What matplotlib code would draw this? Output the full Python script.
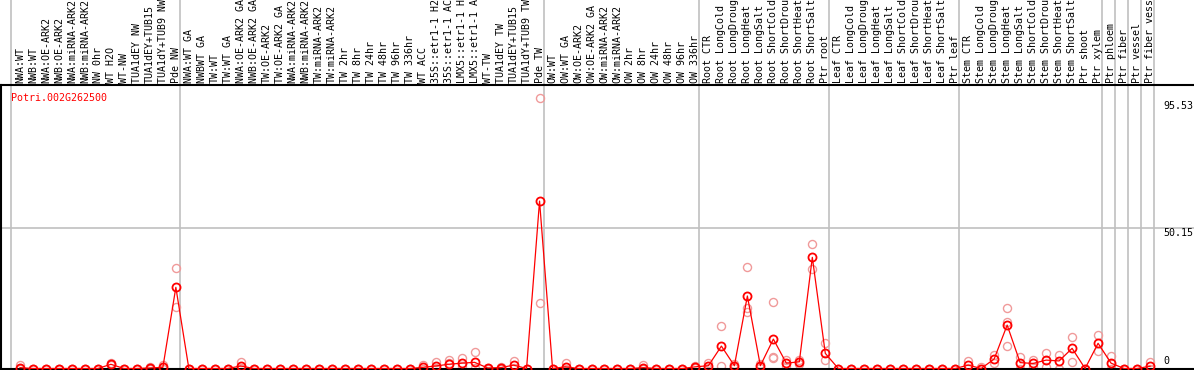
import numpy as np
import matplotlib
matplotlib.use("Agg")
import matplotlib.pyplot as plt
import matplotlib.transforms as mtransforms

gene = "Potri.002G262500"

samples = [
    "NWA:WT", "NWB:WT", "NWA:OE-ARK2", "NWB:OE-ARK2", "NWA:miRNA-ARK2", "NWB:miRNA-ARK2",
    "NW 0hr", "WT H2O", "WT-NW", "TUA1dEY NW", "TUA1dEY+TUB15", "TUA1dY+TUB9 NW", "Pde NW",
    "NWA:WT GA", "NWBWT GA", "TW:WT", "TW:WT GA", "NWA:OE-ARK2 GA", "NWB:OE-ARK2 GA",
    "TW:OE-ARK2", "TW:OE-ARK2 GA", "NWA:miRNA-ARK2", "NWB:miRNA-ARK2", "TW:miRNA-ARK2",
    "TW:miRNA-ARK2", "TW 2hr", "TW 8hr", "TW 24hr", "TW 48hr", "TW 96hr", "TW 336hr",
    "WT ACC", "35S::etr1-1 H2", "35S::etr1-1 AC", "LMX5::etr1-1 H", "LMX5::etr1-1 A",
    "WT-TW", "TUA1dEY TW", "TUA1dEY+TUB15", "TUA1dY+TUB9 TW", "Pde TW",
    "OW:WT", "OW:WT GA", "OW:OE-ARK2", "OW:OE-ARK2 GA", "OW:miRNA-ARK2", "OW:miRNA-ARK2",
    "OW 2hr", "OW 8hr", "OW 24hr", "OW 48hr", "OW 96hr", "OW 336hr",
    "Root CTR", "Root LongCold", "Root LongDroug", "Root LongHeat", "Root LongSalt",
    "Root ShortCold", "Root ShortDrou", "Root ShortHeat", "Root ShortSalt", "Ptr root",
    "Leaf CTR", "Leaf LongCold", "Leaf LongDroug", "Leaf LongHeat", "Leaf LongSalt",
    "Leaf ShortCold", "Leaf ShortDrou", "Leaf ShortHeat", "Leaf ShortSalt", "Ptr leaf",
    "Stem CTR", "Stem LongCold", "Stem LongDroug", "Stem LongHeat", "Stem LongSalt",
    "Stem ShortCold", "Stem ShortDrou", "Stem ShortHeat", "Stem ShortSalt", "Ptr shoot",
    "Ptr xylem", "Ptr phloem", "Ptr fiber", "Ptr vessel", "Ptr fiber vess",
]

# mean expression
means = [
    0.3, 0, 0, 0, 0, 0, 0, 1.5, 0, 0, 0.2, 0.4, 29.0,
    0, 0, 0, 0, 0.9, 0, 0, 0, 0, 0, 0, 0, 0, 0, 0, 0, 0, 0,
    0.4, 0.9, 1.5, 1.9, 2.2, 0.2, 0.3, 1.2, 0, 59.8,
    0, 0.6, 0, 0, 0, 0, 0, 0.3, 0, 0, 0, 0.6, 1.0,
    8.0, 1.0, 25.9, 1.0, 10.5, 1.9, 2.4, 39.7, 5.4, 0,
    0, 0, 0, 0, 0, 0, 0, 0, 0, 1.2,
    0, 3.4, 15.5, 2.1, 1.8, 3.0, 2.7, 7.2, 0, 9.0, 1.9,
    0, 0, 0.8,
]

# replicates
rep1 = [
    1.3, 0, 0, 0, 0, 0, 0, 1.8, 0, 0, 0.6, 1.3, 35.9,
    0, 0, 0, 0, 2.4, 0, 0, 0, 0, 0, 0, 0, 0, 0, 0, 0, 0, 0,
    1.2, 2.4, 3.0, 3.6, 5.9, 0.3, 0.6, 2.7, 0, 96.6,
    0, 1.9, 0, 0, 0, 0, 0, 1.2, 0, 0, 0, 1.0, 1.9,
    15.2, 1.6, 36.1, 1.6, 23.6, 3.0, 3.0, 44.4, 9.0, 0,
    0, 0, 0, 0, 0, 0, 0, 0, 0, 2.7,
    0.6, 4.8, 21.5, 4.2, 3.0, 5.4, 4.8, 11.4, 0, 12.0, 4.5,
    0, 0, 2.2,
]
rep2 = [
    0, 0, 0, 0, 0, 0, 0, 1.3, 0, 0, 0, 0, 22.1,
    0, 0, 0, 0, 0.2, 0, 0, 0, 0, 0, 0, 0, 0, 0, 0, 0, 0, 0,
    0, 0.2, 2.0, 0.8, 0.2, 0, 0, 0.2, 0, 23.3,
    0, 0, 0, 0, 0, 0, 0, 0, 0, 0, 0, 0.3, 0.3,
    1.0, 0.2, 21.5, 0.2, 4.1, 0.8, 1.6, 35.5, 3.0, 0,
    0, 0, 0, 0, 0, 0, 0, 0, 0, 0.2,
    0, 2.0, 8.0, 0, 0.6, 0.6, 0, 2.2, 0, 6.1, 0,
    0, 0, 0,
]
rep3_idx = [56, 58, 76]
rep3_val = [20.2, 3.8, 16.5]

# group boundaries (sample index where a new group starts)
group_edges = [0, 13, 41, 53, 63, 73, 84, 85, 86, 87, 88]

W, H = 1194, 370
fig = plt.figure(figsize=(W / 100, H / 100), dpi=100)
top_px, bot_px = 85, 369
ax = fig.add_axes([1 / W, (H - bot_px) / H, 1 - 1 / W, (bot_px - top_px) / H])

x = np.arange(len(samples))
scale = 2.8  # px per unit
ax.set_xlim((0 - 19) / 13, (W - 19) / 13)
ax.set_ylim(-0.5 / scale, (bot_px - 0.5 - top_px) / scale)

for e in group_edges:
    ax.axvline(e - 9 / 13, ymin=0, ymax=1 + top_px / (bot_px - top_px),
               color="#c0c0c0", lw=1.2, clip_on=False, zorder=0)
ax.axhline(50.15, color="#c0c0c0", lw=1.2, zorder=0)

mono = "DejaVu Sans Mono"
ax.plot(x, rep1, "o", ms=5.8, mfc="none", mec="#f09a9a", mew=1.0, zorder=2)
ax.plot(x, rep2, "o", ms=5.8, mfc="none", mec="#f09a9a", mew=1.0, zorder=2)
ax.plot(rep3_idx, rep3_val, "o", ms=5.8, mfc="none", mec="#f09a9a", mew=1.0, zorder=2)
ax.plot(x, means, "-", color="red", lw=0.9, zorder=3)
ax.plot(x, means, "o", ms=5.8, mfc="none", mec="red", mew=1.3, zorder=4)

trans = mtransforms.blended_transform_factory(ax.transData, ax.transAxes)
label_y = 1 + 2 / (bot_px - top_px)
for i, s in enumerate(samples):
    ax.text(i, label_y, s, rotation=90, ha="center", va="bottom", fontsize=7.2,
            family=mono, color="black", transform=trans, clip_on=False)

lx = (1163 - 19) / 13
ax.text(lx, 95.53, "95.53", ha="left", va="top", fontsize=7.2, family=mono, clip_on=False)
ax.text(lx, 50.15, "50.15", ha="left", va="top", fontsize=7.2, family=mono, clip_on=False)
ax.text(lx, 0.9, "0", ha="left", va="bottom", fontsize=7.2, family=mono, clip_on=False)

ax.text(10 / W, 1 - 8 / (bot_px - top_px), gene, transform=ax.transAxes, ha="left", va="top",
        fontsize=7.2, family=mono, color="red")

ax.spines["right"].set_visible(False)
for side in ["left", "bottom", "top"]:
    ax.spines[side].set_color("black")
    ax.spines[side].set_linewidth(1.5)
ax.set_xticks([])
ax.set_yticks([])

fig.savefig("out.png", dpi=100)
